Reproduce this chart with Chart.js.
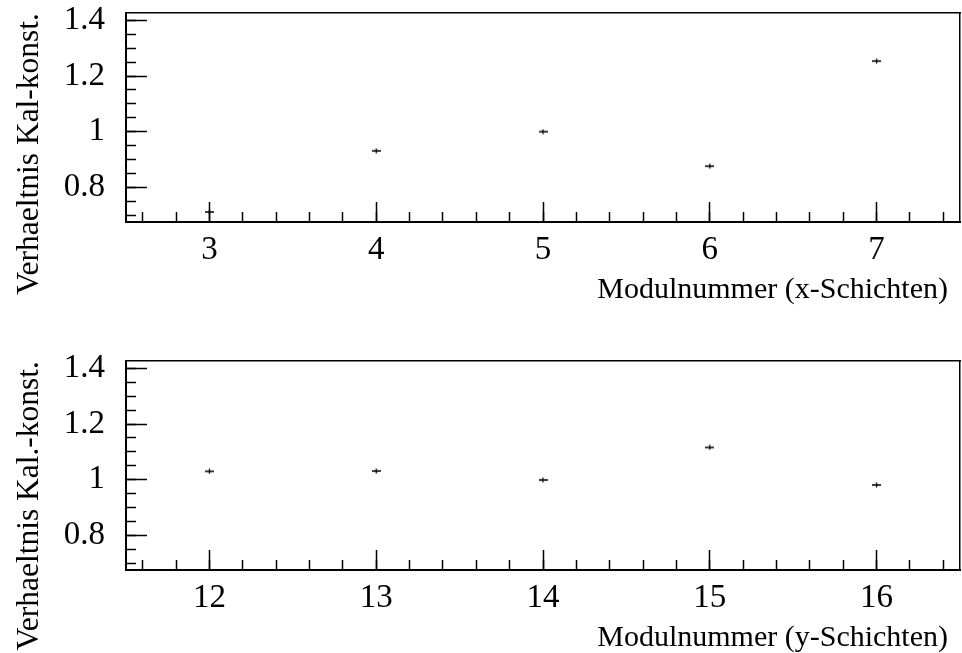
<!DOCTYPE html>
<html>
<head>
<meta charset="utf-8">
<script src="https://cdn.jsdelivr.net/npm/chart.js@4.4.1/dist/chart.umd.min.js"></script>
<style>
  html, body { margin: 0; padding: 0; background: #fff; overflow: hidden; }
  #wrap { position: relative; width: 962px; height: 653px; }
  canvas { position: absolute; left: 0; }
  #panelX { top: 0; }
  #panelY { top: 326px; }
</style>
</head>
<body>
<div id="wrap">
  <canvas id="panelX" width="962" height="326"></canvas>
  <canvas id="panelY" width="962" height="327"></canvas>
</div>
<script>
// Calibration-constant ratios per module, x layers
const modulesX = [3, 4, 5, 6, 7];
const ratioX = [0.711, 0.931, 1.000, 0.876, 1.254];

// Calibration-constant ratios per module, y layers
const modulesY = [12, 13, 14, 15, 16];
const ratioY = [1.030, 1.031, 0.999, 1.116, 0.981];

// Axis ticks and ranges
const yMajorTicks = [0.8, 1.0, 1.2, 1.4];
const yRange = [0.675, 1.427];
const xRangeX = [2.5, 7.5];
const xRangeY = [11.5, 16.5];

const FAMILY = '"Liberation Serif", "Times New Roman", serif';

function steps(from, to, step) {
  const out = [];
  for (let v = from; v <= to + 1e-9; v += step) out.push(Math.round(v * 1000) / 1000);
  return out;
}
function fixedTicks(values) {
  return scale => { scale.ticks = values.map(v => ({ value: v })); };
}
function fitTo(size) {
  return scale => {
    if (scale.isHorizontal()) scale.height = size; else scale.width = size;
    scale.paddingTop = scale.paddingBottom = scale.paddingLeft = scale.paddingRight = 0;
  };
}

// Small cross used as the point marker (value with tiny error bars)
function errorCross() {
  const c = document.createElement('canvas');
  c.width = 9; c.height = 6;
  const g = c.getContext('2d');
  g.strokeStyle = '#000';
  g.lineWidth = 1.3;
  g.beginPath();
  g.moveTo(0, 3); g.lineTo(9, 3);
  g.moveTo(4.5, 0.5); g.lineTo(4.5, 5.5);
  g.stroke();
  return c;
}

// Axis caption placed under the right end of the x axis
const axisCaption = {
  id: 'axisCaption',
  afterDraw(chart, args, opts) {
    const { ctx, chartArea } = chart;
    ctx.save();
    ctx.font = opts.size + 'px ' + FAMILY;
    ctx.fillStyle = '#000';
    ctx.textAlign = 'right';
    ctx.textBaseline = 'middle';
    ctx.fillText(opts.text, chartArea.right - opts.inset, chartArea.bottom + opts.drop);
    ctx.restore();
  }
};

function makePanel(id, modules, ratios, xRange, xTitle, yTitle, padTop, axisH) {
  const hidden = { display: false };
  const frameSide = (position, weight) => ({
    type: 'linear', position, weight, min: 0, max: 1,
    afterFit: fitTo(0),
    border: { display: true, color: '#000', width: 1.5 },
    grid: { drawOnChartArea: false, drawTicks: false },
    ticks: hidden
  });

  new Chart(document.getElementById(id), {
    type: 'scatter',
    data: {
      datasets: [{
        data: modules.map((m, i) => ({ x: m, y: ratios[i] })),
        pointStyle: errorCross(),
        pointRadius: 4,
        showLine: false
      }]
    },
    options: {
      responsive: false,
      animation: false,
      events: [],
      layout: { autoPadding: false, padding: { top: padTop, right: 2, left: 0, bottom: 0 } },
      plugins: {
        legend: { display: false },
        tooltip: { enabled: false },
        axisCaption: { text: xTitle, size: 30, inset: 12, drop: 68 }
      },
      scales: {
        x: {
          type: 'linear', position: 'bottom', weight: 1, bounds: 'data',
          min: xRange[0], max: xRange[1],
          afterBuildTicks: fixedTicks(modules),
          afterFit: fitTo(axisH),
          border: { color: '#000', width: 2 },
          grid: { drawOnChartArea: false, tickLength: -20, tickWidth: 1.5, tickColor: '#000' },
          ticks: {
            padding: 29, color: '#000', maxRotation: 0, autoSkip: false,
            font: { family: FAMILY, size: 33 },
            callback: v => String(v)
          }
        },
        xMinor: {
          type: 'linear', position: 'bottom', weight: 0, bounds: 'data',
          min: xRange[0], max: xRange[1],
          afterBuildTicks: fixedTicks(steps(xRange[0] + 0.1, xRange[1] - 0.1, 0.2)),
          afterFit: fitTo(0),
          border: { display: false },
          grid: { drawOnChartArea: false, tickLength: -10, tickWidth: 1.5, tickColor: '#000' },
          ticks: hidden
        },
        y: {
          type: 'linear', position: 'left', weight: 1, bounds: 'data',
          min: yRange[0], max: yRange[1],
          afterBuildTicks: fixedTicks(yMajorTicks),
          afterFit: fitTo(126),
          border: { color: '#000', width: 2 },
          grid: { drawOnChartArea: false, tickLength: -21, tickWidth: 1.5, tickColor: '#000' },
          ticks: {
            padding: 42, color: '#000',
            font: { family: FAMILY, size: 33 },
            callback: v => String(+v.toFixed(2))
          },
          title: {
            display: true, text: yTitle, align: 'end', color: '#000',
            font: { family: FAMILY, size: 31.5 },
            padding: { top: 11, bottom: 0 }
          }
        },
        yMinor: {
          type: 'linear', position: 'left', weight: 0, bounds: 'data',
          min: yRange[0], max: yRange[1],
          afterBuildTicks: fixedTicks(steps(0.7, 1.4, 0.05)),
          afterFit: fitTo(0),
          border: { display: false },
          grid: { drawOnChartArea: false, tickLength: -10, tickWidth: 1.5, tickColor: '#000' },
          ticks: hidden
        },
        frameTop: frameSide('top', 0),
        frameRight: frameSide('right', 0)
      }
    },
    plugins: [axisCaption]
  });
}

makePanel('panelX', modulesX, ratioX, xRangeX,
  'Modulnummer (x-Schichten)', 'Verhaeltnis Kal-konst.', 13, 104);
makePanel('panelY', modulesY, ratioY, xRangeY,
  'Modulnummer (y-Schichten)', 'Verhaeltnis Kal.-konst.', 35, 83);
</script>
</body>
</html>
